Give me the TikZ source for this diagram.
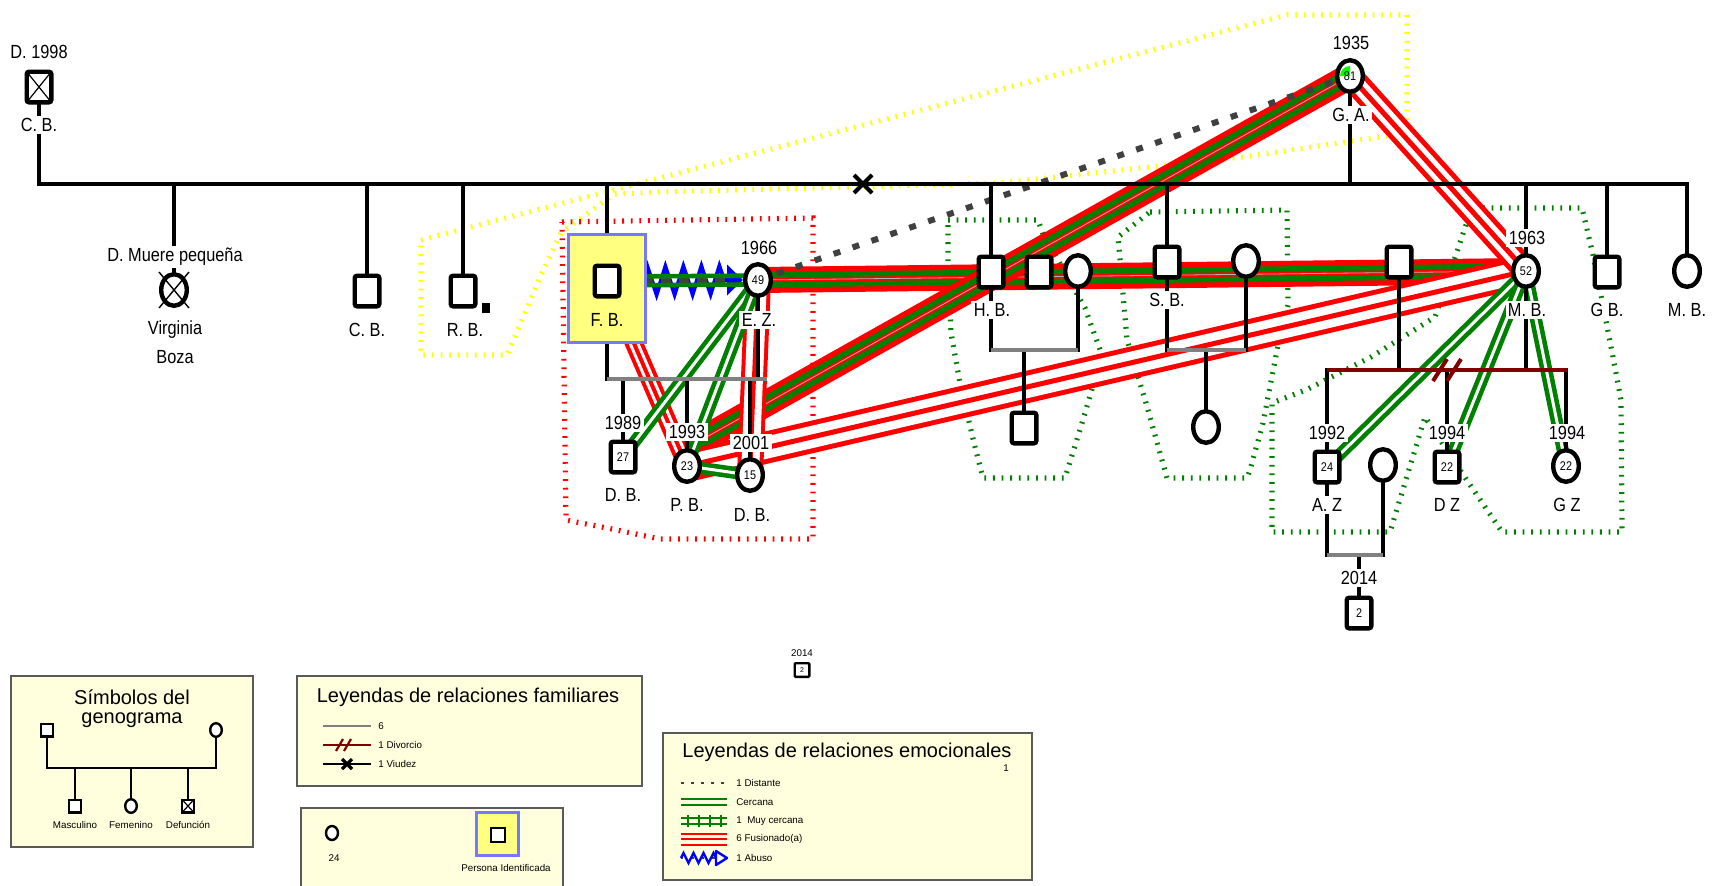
\documentclass[tikz,border=0pt]{standalone}
\usepackage{fontspec}
\setmainfont{Liberation Sans}
\newfontfamily\narrowfont{Liberation Sans}[FakeStretch=0.86]
\usetikzlibrary{shapes.geometric,decorations.pathmorphing,arrows.meta,calc}
\pgfdeclarelayer{regions}
\pgfdeclarelayer{emo}
\pgfdeclarelayer{fam}
\pgfsetlayers{regions,emo,fam,main}
\definecolor{grn}{RGB}{0,128,0}
\definecolor{limeg}{RGB}{0,255,0}
\definecolor{lyellow}{RGB}{255,255,221}
\definecolor{fbyellow}{RGB}{255,255,128}
\definecolor{fbblue}{RGB}{120,120,255}
\definecolor{dgray}{RGB}{64,64,64}
\definecolor{famgray}{RGB}{128,128,128}
\definecolor{divred}{RGB}{128,0,0}
\definecolor{yel}{RGB}{255,255,0}
\definecolor{lframe}{RGB}{90,90,90}
\newcommand\lblfont{\narrowfont\fontsize{9.5}{11}\selectfont}
\newcommand\numfont{\narrowfont\fontsize{6.3}{7}\selectfont}
\newcommand\ttlfont{\fontsize{10}{12}\selectfont}
\newcommand\smlfont{\fontsize{4.9}{6}\selectfont}
\newcommand\emCombo[2]{%
  \draw[red,line width=13pt] #1 -- #2;
  \draw[grn,line width=2.7pt,double=red,double distance=2.2pt] #1 -- #2;
  \draw[gray!60,line width=0.4pt] #1 -- #2;}
\newcommand\emFus[5]{%
  \draw[red,line width=#3] #1 -- #2;
  \draw[white,line width=#4,double=red,double distance=#5] #1 -- #2;}
\newcommand\emCerc[2]{%
  \draw[grn,line width=2.3pt,double=white,double distance=1.5pt] #1 -- #2;}
\begin{document}
\begin{tikzpicture}[x=0.5pt,y=-0.5pt,
  sq/.style={draw,line width=2.2pt,fill=white,rounded corners=1.2pt,minimum width=12.3pt,minimum height=15.3pt,inner sep=0pt,font=\numfont},
  ci/.style={ellipse,draw,line width=2.2pt,fill=white,minimum width=12.8pt,minimum height=15.8pt,inner sep=0pt,font=\numfont},
  dead/.style={path picture={\draw[line width=0.6pt] (path picture bounding box.south west) -- (path picture bounding box.north east) (path picture bounding box.north west) -- (path picture bounding box.south east);}},
  lbl/.style={fill=white,inner xsep=1.2pt,inner ysep=1pt,font=\lblfont},
  famline/.style={line width=2pt,black,line cap=rect},
  region/.style={line width=2.6pt,dash pattern=on 0.9pt off 3.4pt},
  lg/.style={draw=lframe,line width=0.8pt,fill=lyellow,anchor=north west,inner sep=0pt},
  msq/.style={draw,line width=1.2pt,fill=white,minimum width=5.8pt,minimum height=6.3pt,inner sep=0pt},
  mci/.style={ellipse,draw,line width=1.2pt,fill=white,minimum width=5.8pt,minimum height=6.8pt,inner sep=0pt},
  sml/.style={font=\smlfont,inner sep=0.5pt},
  ttl/.style={font=\ttlfont,inner sep=0pt}]
\useasboundingbox (0,0) rectangle (1717,885);

% ---------------- persons ----------------
\node[sq,dead] (cbA) at (39,87) {};
\node[ci] (vir) at (174,290) {};
\draw[line width=0.7pt] ($(vir.center)+(-15,-18)$) -- ($(vir.center)+(15,18)$) ($(vir.center)+(-15,18)$) -- ($(vir.center)+(15,-18)$);
\node[sq] (cbB) at (367,291) {};
\node[sq] (rb) at (463,291) {};
\node[fill=black,minimum width=4pt,minimum height=5pt,inner sep=0pt] (rbm) at (486,308) {};
\node[draw=fbblue,line width=1.5pt,fill=fbyellow,minimum width=38.5pt,minimum height=54pt,inner sep=0pt] (fb) at (607,288.5) {};
\node[sq] (fbi) at (607,281) {};
\node[ci] (ez) at (758,280) {49};
\node[sq] (dbA) at (623,457) {27};
\node[ci] (pb) at (687,466) {23};
\node[ci] (dbB) at (750,475) {15};
\node[sq] (hb) at (991,272) {};
\node[sq] (hx) at (1039,272) {};
\node[ci] (hw) at (1078,271) {};
\node[sq] (hc) at (1024,428) {};
\node[sq] (sb) at (1167,262) {};
\node[ci] (sw) at (1246,261) {};
\node[ci] (sc) at (1206,427) {};
\node[sq] (mh) at (1399,262) {};
\node[ci] (mb) at (1526,271) {52};
\node[sq] (az) at (1327,467) {24};
\node[ci] (aw) at (1383,465) {};
\node[sq] (azc) at (1359,613) {2};
\node[sq] (dz) at (1447,467) {22};
\node[ci] (gz) at (1566,466) {22};
\node[sq] (gbn) at (1607,272) {};
\node[ci] (mbb) at (1687,271) {};
\node[ci,path picture={\fill[limeg] (path picture bounding box.center) -- ++(-5pt,0pt) arc[start angle=180,end angle=90,radius=5pt] -- cycle;}] (ga) at (1350,76) {81};

% ---------------- family lines ----------------
\begin{pgfonlayer}{fam}
\coordinate (mlL) at (39,184);
\coordinate (mlR) at (1687,184);
\draw[famline] (mlL) -- (mlR);
\draw[famline] (cbA.south) -- (cbA.south |- mlL);
\foreach \n in {vir,cbB,rb,fb,hb,sb,mb,gbn,mbb} \draw[famline] (\n.north) -- (\n.north |- mlL);
\draw[famline] (ga.south) -- (ga.south |- mlL);
\draw[line width=2pt] (854,175) -- (872,193) (854,193) -- (872,175);
% F.B. + E.Z.
\coordinate (c1L) at (607,379);
\coordinate (c1R) at (767,379);
\draw[famline] (fb.south) -- (fb.south |- c1L);
\draw[famline] (ez.south) -- (ez.south |- c1L);
\foreach \n in {dbA,pb,dbB} \draw[famline] (\n.north) -- (\n.north |- c1L);
\draw[famgray,line width=2pt] (c1L) -- (c1R);
% H.B.
\coordinate (c2) at (991,350);
\foreach \n in {hb,hw} \draw[famline] (\n.south) -- (\n.south |- c2);
\draw[famline] (hc.north) -- (hc.north |- c2);
\draw[famgray,line width=2pt] (hb.south |- c2) -- (hw.south |- c2);
% S.B.
\coordinate (c3) at (1167,350);
\foreach \n in {sb,sw} \draw[famline] (\n.south) -- (\n.south |- c3);
\draw[famline] (sc.north) -- (sc.north |- c3);
\draw[famgray,line width=2pt] (sb.south |- c3) -- (sw.south |- c3);
% M.B.
\coordinate (c4) at (1327,370);
\coordinate (c4R) at (1567,370);
\foreach \n in {mh,mb} \draw[famline] (\n.south) -- (\n.south |- c4);
\foreach \n in {az,dz,gz} \draw[famline] (\n.north) -- (\n.north |- c4);
\draw[divred,line width=2pt] (c4) -- (c4R);
\draw[divred,line width=2pt] (1433,381) -- (1447,359) (1447,381) -- (1461,359);
% A.Z.
\coordinate (c5) at (1327,555);
\foreach \n in {az,aw} \draw[famline] (\n.south) -- (\n.south |- c5);
\draw[famline] (azc.north) -- (azc.north |- c5);
\draw[famgray,line width=2pt] (az.south |- c5) -- (aw.south |- c5);
\end{pgfonlayer}

% ---------------- regions ----------------
\begin{pgfonlayer}{regions}
\draw[region,yel] (421,240) -- (1287,15) -- (1407,15) -- (1407,133) -- (1243,157) -- (1000,183) -- (660,192) -- (614,194) -- (561,233) -- (542,273) -- (507,355) -- (421,355) -- cycle;
\draw[region,red] (562,222) -- (813,218) -- (813,539) -- (660,539) -- (607,528) -- (566,520) -- cycle;
\draw[region,grn] (948,220) -- (1038,220) -- (1043,234) -- (1085,308) -- (1102,355) -- (1082,423) -- (1065,478) -- (983,478) -- (974,443) -- (960,383) -- (951,333) -- (948,263) -- cycle;
\draw[region,grn] (1150,212) -- (1287,210) -- (1288,305) -- (1279,340) -- (1263,423) -- (1250,470) -- (1247,478) -- (1167,478) -- (1146,403) -- (1127,340) -- (1118,237) -- cycle;
\draw[region,grn] (1483,208) -- (1582,208) -- (1593,255) -- (1613,357) -- (1621,400) -- (1622,532) -- (1502,532) -- (1462,473) -- (1425,417) -- (1390,532) -- (1272,532) -- (1272,403) -- (1306,390) -- (1371,357) -- (1435,317) -- (1467,222) -- cycle;
\end{pgfonlayer}

% ---------------- emotional relations ----------------
\begin{pgfonlayer}{emo}
\emCombo{(ez.center)}{(mb.center)}
\emCombo{(pb.north)}{(ga.center)}
\emFus{(pb.center)}{(mb.center)}{16pt}{4.25pt}{2.5pt}
\emFus{(ga.center)}{(mb.center)}{12.5pt}{2.5pt}{2.5pt}
\emFus{(ez.center)}{(dbB.center)}{13pt}{3.5pt}{2pt}
\emFus{(fbi.center)}{(pb.center)}{9pt}{1.5pt}{2pt}
\emCerc{(ez.center)}{(dbA.center)}
\emCerc{(ez.center)}{(pb.center)}
\emCerc{(pb.center)}{(dbB.center)}
\emCerc{(mb.center)}{(az.center)}
\emCerc{(mb.center)}{(dz.center)}
\emCerc{(mb.center)}{(gz.center)}
\coordinate (abT) at ($(ez.west)+(-16,0)$);
\draw[blue,line width=2pt,decorate,decoration={zigzag,amplitude=7pt,segment length=9pt}] (fbi.center) -- (abT);
\draw[blue,line width=2pt,-{Triangle[length=8pt,width=15pt]}] (abT) -- (ez.west);
\draw[dgray,line width=3pt,dash pattern=on 5pt off 4pt] (fbi.center) -- (abT);
\draw[grn,line width=2.3pt,transform canvas={yshift=2.2pt}] (fbi.center) -- (ez.center);
\draw[grn,line width=2.3pt,transform canvas={yshift=-2.2pt}] (fbi.center) -- (ez.center);
\draw[dgray,line width=3pt,dash pattern=on 3.5pt off 6.5pt] (ez.center) -- (ga.center);
\end{pgfonlayer}

% ---------------- labels ----------------
\node[lbl] (tcbAy) at (39,52) {D. 1998};
\node[lbl] (tcbA) at (39,125) {C. B.};
\node[lbl] (tvirD) at (175,257) {D. Muere pequeña};
\node[lbl] (tvir1) at (175,330) {Virginia};
\node[lbl] (tvir2) at (175,357) {Boza};
\node[lbl] (tcbB) at (367,330) {C. B.};
\node[lbl] (trb) at (465,330) {R. B.};
\node[font=\lblfont,inner sep=0pt] (tfb) at (607,320) {F. B.};
\node[lbl] (tezy) at (759,248) {1966};
\node[lbl] (tez) at (759,320) {E. Z.};
\node[lbl] (tdbAy) at (623,423) {1989};
\node[lbl] (tdbA) at (623,495) {D. B.};
\node[lbl] (tpby) at (687,432) {1993};
\node[lbl] (tpb) at (687,505) {P. B.};
\node[lbl] (tdbBy) at (751,443) {2001};
\node[lbl] (tdbB) at (752,515) {D. B.};
\node[lbl] (thb) at (992,310) {H. B.};
\node[lbl] (tsb) at (1167,300) {S. B.};
\node[lbl] (tmby) at (1527,238) {1963};
\node[lbl] (tmb) at (1527,310) {M. B.};
\node[lbl] (tazy) at (1327,433) {1992};
\node[lbl] (taz) at (1327,505) {A. Z};
\node[lbl] (tdzy) at (1447,433) {1994};
\node[lbl] (tdz) at (1447,505) {D Z};
\node[lbl] (tgzy) at (1567,433) {1994};
\node[lbl] (tgz) at (1567,505) {G Z};
\node[lbl] (tgb) at (1607,310) {G B.};
\node[lbl] (tmbb) at (1687,310) {M. B.};
\node[lbl] (tgay) at (1351,43) {1935};
\node[lbl] (tga) at (1351,115) {G. A.};
\node[lbl] (tazcy) at (1359,578) {2014};
\node[sml] (tsm) at (802,653) {2014};
\node[draw,line width=1.2pt,rounded corners=0.5pt,minimum width=7.3pt,minimum height=6.8pt,inner sep=0pt,font=\fontsize{3.5}{4}\selectfont] (sqsm) at (802,670) {2};

% ---------------- legend 1 ----------------
\node[lg,minimum width=121.2pt,minimum height=85.7pt] (leg1) at (10,675) {};
\node[ttl] (leg1a) at (132,697) {Símbolos del};
\node[ttl] (leg1b) at (132,720) {genograma};
\node[msq] (l1m) at (47,730) {};
\node[mci] (l1f) at (216,730) {};
\coordinate (l1h) at (47,768);
\node[msq] (l1c1) at (75,806) {};
\node[mci] (l1c2) at (131,806) {};
\node[msq,dead] (l1c3) at (188,806) {};
\draw[line width=1.3pt] (l1m.south) -- (l1m.south |- l1h) -- (l1f.south |- l1h) -- (l1f.south);
\foreach \n in {l1c1,l1c2,l1c3} \draw[line width=1.3pt] (\n.north) -- (\n.north |- l1h);
\node[sml] (l1t1) at (75,825) {Masculino};
\node[sml] (l1t2) at (131,825) {Femenino};
\node[sml] (l1t3) at (188,825) {Defunción};

% ---------------- legend 2 ----------------
\node[lg,minimum width=172.7pt,minimum height=55.2pt] (leg2) at (296,675) {};
\node[ttl] (leg2t) at (468,697) {Leyendas de relaciones familiares};
\coordinate (l2a) at (323,726); \coordinate (l2b) at (371,726);
\draw[famgray,line width=1.3pt] (l2a) -- (l2b);
\node[sml,anchor=west] (l2ta) at (377,726) {6};
\coordinate (l2c) at (323,745); \coordinate (l2d) at (371,745);
\draw[divred,line width=1.3pt] (l2c) -- (l2d);
\draw[divred,line width=1.1pt] (336,751) -- (343,739) (344,751) -- (351,739);
\node[sml,anchor=west] (l2tb) at (377,745) {1 Divorcio};
\coordinate (l2e) at (323,764); \coordinate (l2f) at (371,764);
\draw[line width=1.3pt] (l2e) -- (l2f);
\draw[line width=1.6pt] (342,759) -- (352,769) (342,769) -- (352,759);
\node[sml,anchor=west] (l2tc) at (377,764) {1 Viudez};

% ---------------- legend 3 ----------------
\node[lg,minimum width=131.2pt,minimum height=50pt] (leg3) at (300,807) {};
\node[mci,minimum width=6pt,minimum height=7pt] (l3c) at (332,833) {};
\node[sml] (l3n) at (334,858) {24};
\node[draw=fbblue,line width=1.5pt,fill=fbyellow,minimum width=21pt,minimum height=21.5pt,inner sep=0pt] (l3b) at (497.5,834) {};
\node[msq,minimum width=6.8pt,minimum height=6.8pt] (l3s) at (498,835) {};
\node[sml] (l3t) at (506,868) {Persona Identificada};

% ---------------- legend 4 ----------------
\node[lg,minimum width=184.7pt,minimum height=73.7pt] (leg4) at (662,732) {};
\node[ttl] (leg4t) at (847,752) {Leyendas de relaciones emocionales};
\node[sml] (leg4n) at (1006,768) {1};
\coordinate (l4a) at (681,783); \coordinate (l4b) at (727,783);
\draw[dgray,line width=1.3pt,dash pattern=on 1.5pt off 3.5pt] (l4a) -- (l4b);
\node[sml,anchor=west] (l4ta) at (735,783) {1 Distante};
\coordinate (l4c) at (681,802); \coordinate (l4d) at (727,802);
\draw[grn,line width=1pt,double=lyellow,double distance=2pt] (l4c) -- (l4d);
\node[sml,anchor=west] (l4tb) at (735,802) {Cercana};
\coordinate (l4e) at (681,821); \coordinate (l4f) at (727,821);
\draw[grn,line width=1pt,double=lyellow,double distance=2pt] (l4e) -- (l4f);
\foreach \hx in {688,699,710,721} \draw[grn,line width=1pt] (\hx,815) -- (\hx,827);
\node[sml,anchor=west] (l4tc) at (735,821) {1\ \ Muy cercana};
\coordinate (l4g) at (681,839); \coordinate (l4h) at (727,839);
\draw[red,line width=6.5pt] (l4g) -- (l4h);
\draw[lyellow,line width=1.75pt,double=red,double distance=1pt] (l4g) -- (l4h);
\node[sml,anchor=west] (l4td) at (735,839) {6 Fusionado(a)};
\coordinate (l4i) at (681,858); \coordinate (l4j) at (716,858);
\draw[dgray,line width=1.2pt,dash pattern=on 1.2pt off 4pt] (l4i) -- (l4j);
\draw[blue,line width=1.2pt,decorate,decoration={zigzag,amplitude=2.5pt,segment length=5pt}] (l4i) -- (l4j);
\draw[blue,line width=1.2pt,line join=round] (716,851) -- (727,858) -- (716,865) -- cycle;
\node[sml,anchor=west] (l4te) at (735,858) {1 Abuso};
\end{tikzpicture}
\end{document}
